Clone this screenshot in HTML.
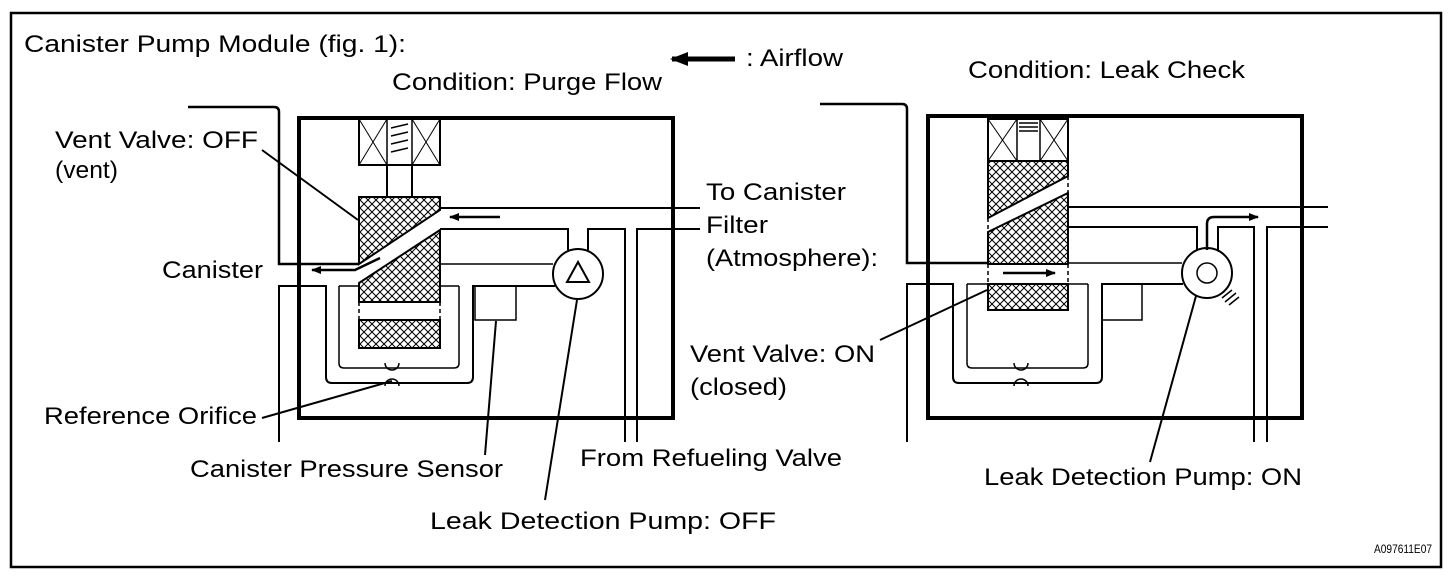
<!DOCTYPE html>
<html><head><meta charset="utf-8"><style>
html,body{margin:0;padding:0;background:#fff;}
svg{display:block;}
text{font-family:"Liberation Sans",sans-serif;font-size:24px;fill:#000;}
</style></head><body>
<svg width="1456" height="580" viewBox="0 0 1456 580" xmlns="http://www.w3.org/2000/svg">
<defs>
<pattern id="h" width="8" height="8" patternUnits="userSpaceOnUse">
<rect width="8" height="8" fill="#fff"/>
<path d="M0 0L8 8M8 0L0 8" stroke="#000" stroke-width="1"/>
</pattern>
<marker id="a" markerWidth="10" markerHeight="8" refX="9" refY="4" orient="auto" markerUnits="userSpaceOnUse">
<path d="M0 0L10 4L0 8z" fill="#000"/></marker>
</defs>
<rect x="11" y="13" width="1430" height="554" fill="none" stroke="#000" stroke-width="2.5"/>
<text x="24" y="52" textLength="382" lengthAdjust="spacingAndGlyphs">Canister Pump Module (fig. 1):</text>
<text x="392" y="90" textLength="270" lengthAdjust="spacingAndGlyphs">Condition: Purge Flow</text>
<text x="746" y="66" textLength="97" lengthAdjust="spacingAndGlyphs">: Airflow</text>
<line x1="735" y1="59" x2="672" y2="59" stroke="#000" stroke-width="5"/>
<path d="M670 59L688 52L688 66z"/>
<text x="968" y="78" textLength="277" lengthAdjust="spacingAndGlyphs">Condition: Leak Check</text>

<g fill="none" stroke="#000">
<rect x="299" y="118" width="374" height="300" stroke-width="4"/>
<path d="M188 107H274Q279 107 279 112V264H359" stroke-width="2.5"/>
<path d="M279 442V286H326V377Q326 383 332 383H467Q473 383 473 377V286H555" stroke-width="2"/>
<path d="M339 286V363Q339 368 344 368H454Q459 368 459 363V286" stroke-width="1.5"/>
<path d="M339 286H359M440 286H459" stroke-width="1.5"/>
<rect x="475" y="286" width="41" height="34" stroke-width="1.5"/>
<path d="M440 208H700M440 229H568V250M588 250V229H625V442M637 442V229H700" stroke-width="2"/>
<path d="M440 264H553" stroke-width="1.5"/>
<circle cx="578" cy="274" r="25" stroke-width="2" fill="#fff"/>
<path d="M578 262L567 282H589z" stroke-width="2"/>
<rect x="359" y="119" width="81" height="46" stroke-width="2"/>
<path d="M359 119L387 165M387 119L359 165M412 119L440 165M440 119L412 165" stroke-width="1"/>
<rect x="387" y="119" width="25" height="46" stroke-width="1.5"/>
<path d="M391 128L408 124M391 136L408 132M391 144L408 140M391 152L408 148" stroke-width="1.5"/>
<rect x="387" y="165" width="25" height="32" stroke-width="2"/>
<path d="M359 197H440V210L359 264z" fill="url(#h)" stroke-width="2"/>
<path d="M359 283L440 230V302H359z" fill="url(#h)" stroke-width="2"/>
<rect x="359" y="320" width="81" height="28" fill="url(#h)" stroke-width="2"/>
<path d="M359 302V320M440 302V320" stroke-width="1.5" stroke-dasharray="4 3"/>
<path d="M385 363A7 7 0 0 0 399 363M385 386A7 7 0 0 1 399 386" stroke-width="1.5"/>
<path d="M500 217H450" stroke-width="2.5" marker-end="url(#a)"/>
<path d="M380 258L355 270H312" stroke-width="2.5" marker-end="url(#a)"/>
<path d="M262 150L358 220M262 418L392 381M485 455L496 321M545 500L577 300" stroke-width="2"/>

<rect x="928" y="116" width="374" height="302" stroke-width="4"/>
<path d="M820 104H902Q907 104 907 109V263H988" stroke-width="2.5"/>
<path d="M907 442V284H953V377Q953 383 959 383H1096Q1102 383 1102 377V284H1183" stroke-width="2"/>
<path d="M967 284V363Q967 368 972 368H1083Q1088 368 1088 363V284" stroke-width="1.5"/>
<path d="M967 284H988M1068 284H1088" stroke-width="1.5"/>
<path d="M1102 320H1142V284" stroke-width="1.5"/>
<path d="M1068 207H1328M1068 227H1197V250M1218 250V227H1254V442M1267 442V227H1328" stroke-width="2"/>
<path d="M1068 263H1182" stroke-width="1.5"/>
<circle cx="1207" cy="273" r="25" stroke-width="2" fill="#fff"/>
<circle cx="1207" cy="273" r="10" stroke-width="1.5"/>
<path d="M1222 298L1232 290M1225 302L1236 293M1229 305L1239 297" stroke-width="1.5"/>
<rect x="988" y="119" width="80" height="42" stroke-width="2"/>
<path d="M988 119L1017 161M1017 119L988 161M1040 119L1068 161M1068 119L1040 161" stroke-width="1"/>
<rect x="1017" y="119" width="23" height="42" stroke-width="1.5"/>
<path d="M1019 123H1038M1019 127H1038M1019 131H1038" stroke-width="1.5"/>
<path d="M988 161H1068V176L988 218z" fill="url(#h)" stroke-width="2"/>
<path d="M988 232L1068 193V264H988z" fill="url(#h)" stroke-width="2"/>
<rect x="988" y="284" width="80" height="26" fill="url(#h)" stroke-width="2"/>
<path d="M988 218V232M1068 176V193" stroke-width="1.5" stroke-dasharray="4 3"/>
<path d="M988 264V284M1068 264V284" stroke-width="1.5" stroke-dasharray="4 3"/>
<path d="M1014 363A7 7 0 0 0 1028 363M1014 386A7 7 0 0 1 1028 386" stroke-width="1.5"/>
<path d="M1003 273H1055" stroke-width="2.5" marker-end="url(#a)"/>
<path d="M1207 250V224Q1207 217 1214 217H1258" stroke-width="2.5" marker-end="url(#a)"/>
<path d="M880 340L987 290M1150 462L1196 296" stroke-width="2"/>
</g>

<text x="55" y="148" textLength="203" lengthAdjust="spacingAndGlyphs">Vent Valve: OFF</text>
<text x="55" y="178" textLength="63" lengthAdjust="spacingAndGlyphs">(vent)</text>
<text x="162" y="278" textLength="101" lengthAdjust="spacingAndGlyphs">Canister</text>
<text x="44" y="424" textLength="213" lengthAdjust="spacingAndGlyphs">Reference Orifice</text>
<text x="190" y="477" textLength="313" lengthAdjust="spacingAndGlyphs">Canister Pressure Sensor</text>
<text x="430" y="529" textLength="346" lengthAdjust="spacingAndGlyphs">Leak Detection Pump: OFF</text>
<text x="580" y="466" textLength="262" lengthAdjust="spacingAndGlyphs">From Refueling Valve</text>
<text x="706" y="200" textLength="140" lengthAdjust="spacingAndGlyphs">To Canister</text>
<text x="706" y="233" textLength="62" lengthAdjust="spacingAndGlyphs">Filter</text>
<text x="706" y="266" textLength="172" lengthAdjust="spacingAndGlyphs">(Atmosphere):</text>
<text x="690" y="362" textLength="185" lengthAdjust="spacingAndGlyphs">Vent Valve: ON</text>
<text x="690" y="395" textLength="97" lengthAdjust="spacingAndGlyphs">(closed)</text>
<text x="984" y="485" textLength="318" lengthAdjust="spacingAndGlyphs">Leak Detection Pump: ON</text>
<text x="1374" y="553" style="font-size:12px" textLength="58" lengthAdjust="spacingAndGlyphs">A097611E07</text>
</svg>
</body></html>
